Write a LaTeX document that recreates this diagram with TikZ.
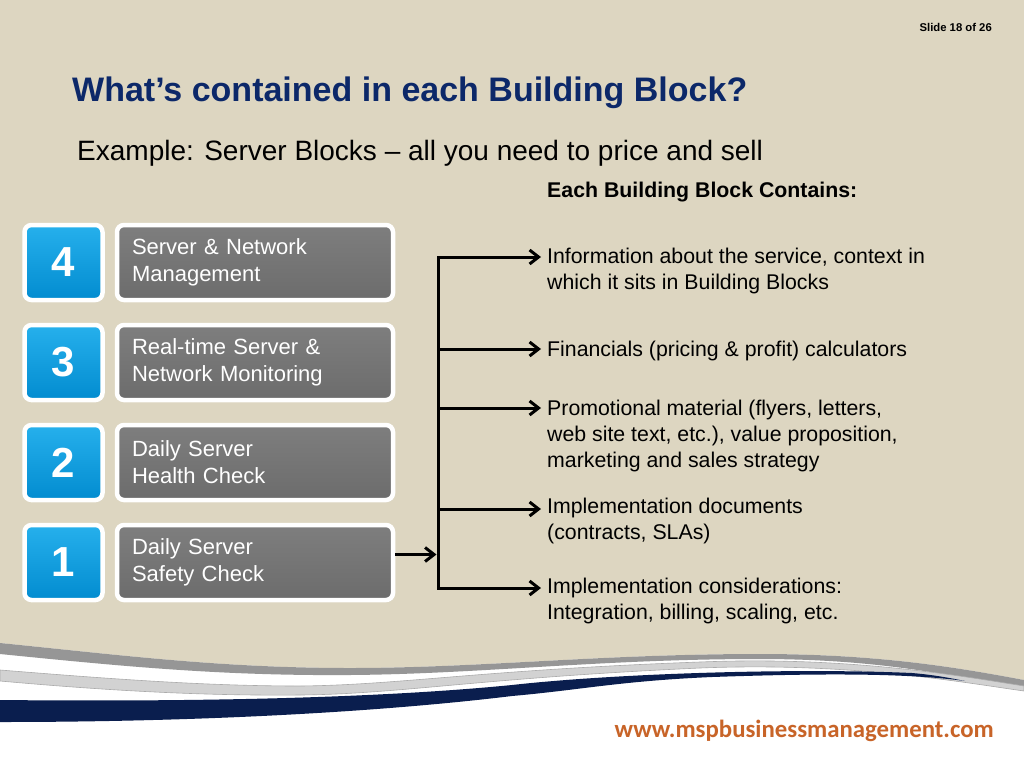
\documentclass[tikz,border=0pt]{standalone}
\usepackage{fontspec}
\setmainfont{Liberation Sans}
\newfontfamily\webfont{Carlito}
\usetikzlibrary{positioning, arrows.meta, shadows, calc}
\definecolor{slidebg}{RGB}{221,214,193}
\definecolor{titleblue}{RGB}{12,40,105}
\definecolor{blktop}{RGB}{38,176,236}
\definecolor{blkbot}{RGB}{2,140,208}
\definecolor{gbtop}{RGB}{126,126,126}
\definecolor{gbbot}{RGB}{108,108,108}
\definecolor{wavegray}{RGB}{150,150,150}
\definecolor{wavelight}{RGB}{210,210,210}
\definecolor{wavenavy}{RGB}{10,30,78}
\definecolor{weborange}{RGB}{200,100,40}
\tikzset{
    numbox/.style={rectangle, rounded corners=7pt, draw=white, line width=4.5pt, top color=blktop, bottom color=blkbot, minimum width=78pt, minimum height=75pt, text=white, font=\fontsize{42}{42}\selectfont\bfseries, drop shadow={opacity=0.25, shadow xshift=1pt, shadow yshift=-2pt}},
    blockbox/.style={rectangle, rounded corners=7pt, draw=white, line width=4.5pt, top color=gbtop, bottom color=gbbot, minimum width=276pt, minimum height=75pt, text width=246pt, inner xsep=15pt, align=left, text=white, font=\fontsize{22}{27}\selectfont, drop shadow={opacity=0.25, shadow xshift=1pt, shadow yshift=-2pt}},
    itemtxt/.style={anchor=north west, inner sep=0pt, align=left, font=\fontsize{21.3}{26}\selectfont, text=black},
    arr/.style={-{Straight Barb[length=9pt, width=14pt]}, line width=3pt, black},
    arrboth/.style={{Straight Barb[length=9pt, width=14pt]}-{Straight Barb[length=9pt, width=14pt]}, line width=3pt, black, line join=miter}
}
\begin{document}
\begin{tikzpicture}[x=1pt, y=-1pt]
    \useasboundingbox (0,0) rectangle (1024,768);
    % background and bottom wave
    \fill[white] (0,0) rectangle (1024,768);
    \fill[slidebg] (0,0) -- (0,643) .. controls (120,655) and (220,668) .. (350,668)
      .. controls (480,668) and (600,654) .. (760,654)
      .. controls (880,654) and (960,668) .. (1024,680) -- (1024,0) -- cycle;
    \fill[wavegray] (0,643) .. controls (120,655) and (220,668) .. (350,668)
      .. controls (480,668) and (600,654) .. (760,654)
      .. controls (880,654) and (960,668) .. (1024,680) -- (1024,691)
      .. controls (960,676) and (880,659) .. (760,659)
      .. controls (600,659) and (480,674) .. (350,675)
      .. controls (220,676) and (120,666) .. (0,654) -- cycle;
    \fill[wavelight, draw=wavegray!80, line width=0.6pt] (0,670) .. controls (100,678) and (200,686) .. (300,686)
      .. controls (400,685) and (480,670) .. (700,662)
      .. controls (850,656) and (960,676) .. (1024,686) -- (1024,691)
      .. controls (960,682) and (850,662) .. (700,668)
      .. controls (480,678) and (400,694) .. (300,695)
      .. controls (200,696) and (100,690) .. (0,681) -- cycle;
    \fill[wavenavy] (0,700) .. controls (200,702) and (380,698) .. (512,685)
      .. controls (620,673) and (800,668) .. (912,673)
      .. controls (935,675) and (950,678) .. (965,681)
      .. controls (900,672) and (800,674) .. (712,677)
      .. controls (620,681) and (580,690) .. (512,696)
      .. controls (380,712) and (200,722) .. (0,722) -- cycle;

    \node[anchor=base east, inner sep=0pt, font=\fontsize{11.3}{12}\selectfont\bfseries] (slideno) at (992,32) {Slide 18 of 26};
    \node[anchor=base west, inner sep=0pt, font=\fontsize{34}{40}\selectfont\bfseries, text=titleblue] (title) at (72,101)
      {What’s contained in each Building Block?};
    \node[anchor=base west, inner sep=0pt, font=\fontsize{28}{34}\selectfont] (subtitle) at (77,160)
      {Example: Server Blocks – all you need to price and sell};
    \node[anchor=base west, inner sep=0pt, font=\fontsize{21.3}{26}\selectfont\bfseries] (heading) at (547,197)
      {Each Building Block Contains:};

    % building blocks
    \node[numbox] (N4) at (63.5,262.5) {4};
    \node[blockbox] (B4) at (255,262.5) {Server \& Network\\Management};
    \node[numbox] (N3) at (63.5,362.5) {3};
    \node[blockbox] (B3) at (255,362.5) {Real-time Server \&\\Network Monitoring};
    \node[numbox] (N2) at (63.5,462.5) {2};
    \node[blockbox] (B2) at (255,462.5) {Daily Server\\Health Check};
    \node[numbox] (N1) at (63.5,562.5) {1};
    \node[blockbox] (B1) at (255,562.5) {Daily Server\\Safety Check};

    % contents
    \node[itemtxt] (I1) at (547,248) {Information about the service, context in\\which it sits in Building Blocks};
    \node[itemtxt] (I2) at (547,341) {Financials (pricing \& profit) calculators};
    \node[itemtxt] (I3) at (547,400) {Promotional material (flyers, letters,\\web site text, etc.), value proposition,\\marketing and sales strategy};
    \node[itemtxt] (I4) at (547,498) {Implementation documents\\(contracts, SLAs)};
    \node[itemtxt] (I5) at (547,578) {Implementation considerations:\\Integration, billing, scaling, etc.};

    \coordinate (bus1) at (438,257);
    \coordinate (bus2) at (438,349);
    \coordinate (bus3) at (438,408);
    \coordinate (bus4) at (438,509);
    \coordinate (bus5) at (438,588);
    \draw[arrboth, shorten <=6pt, shorten >=6pt] (bus1 -| I1.west) -- (bus1) -- (bus5) -- (bus5 -| I5.west);
    \draw[arr, shorten >=6pt] (bus2) -- (bus2 -| I2.west);
    \draw[arr, shorten >=6pt] (bus3) -- (bus3 -| I3.west);
    \draw[arr, shorten >=6pt] (bus4) -- (bus4 -| I4.west);
    \draw[arr, shorten >=1.5pt] ([yshift=8pt]B1.east) -- ([yshift=8pt]B1.east -| bus1);

    \node[anchor=base east, inner sep=0pt, font=\webfont\fontsize{24.8}{30}\selectfont\bfseries, text=weborange] (web) at (994,737)
      {www.mspbusinessmanagement.com};
\end{tikzpicture}
\end{document}
